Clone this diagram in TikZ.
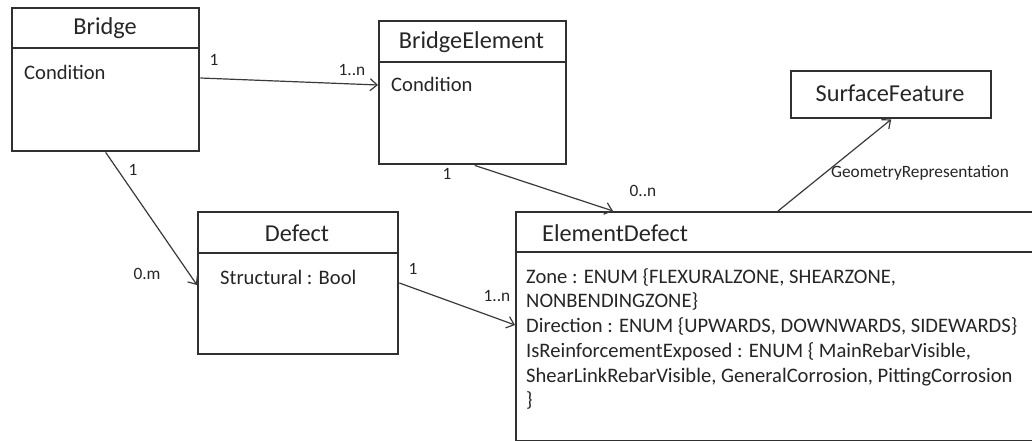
\documentclass[tikz,border=0pt]{standalone}
\usepackage{fontspec}
\setmainfont{Carlito}
\usetikzlibrary{arrows.meta}
\definecolor{ink}{HTML}{262626}
\definecolor{boxline}{HTML}{303030}
\definecolor{arrline}{HTML}{3A3A3A}
\tikzset{
  classbox/.style={draw=boxline, line width=2.4pt, fill=none, rectangle, inner sep=0pt, anchor=north west},
  sepline/.style={draw=boxline, line width=1.1pt},
  titletext/.style={text=ink, inner sep=0pt, font=\fontsize{24.3}{29}\selectfont},
  attrtext/.style={text=ink, inner sep=0pt, anchor=base west, font=\fontsize{20.6}{24}\selectfont},
  multtext/.style={text=ink, inner sep=0pt, font=\fontsize{17.3}{20}\selectfont},
  assoc/.style={draw=arrline, line width=1.2pt, -{Straight Barb[length=7pt,width=12pt,line width=1.2pt]}},
}
\begin{document}
\begin{tikzpicture}[x=1pt,y=-1pt]
\useasboundingbox (0,0) rectangle (1032,441);
\clip (0,0) rectangle (1032,441);
\fill[white] (0,0) rectangle (1032,441);

% Bridge
\node[classbox, minimum width=187, minimum height=143] (bridge) at (11,7) {};
\draw[sepline] ([yshift=-41pt]bridge.north west) -- ([yshift=-41pt]bridge.north east);
\node[titletext] (bridgeT) at (105,28) {Bridge};
\node[attrtext] (bridgeA) at (24,80) {Condition};

% BridgeElement
\node[classbox, minimum width=187, minimum height=143] (be) at (378,20) {};
\draw[sepline] ([yshift=-42pt]be.north west) -- ([yshift=-42pt]be.north east);
\node[titletext] (beT) at (471.5,42) {BridgeElement};
\node[attrtext] (beA) at (391,92) {Condition};

% SurfaceFeature
\node[classbox, minimum width=200, minimum height=47] (sf) at (790,70) {};
\node[titletext] (sfT) at (890,93) {SurfaceFeature};

% Defect
\node[classbox, minimum width=200, minimum height=142] (defect) at (197,211) {};
\draw[sepline] ([yshift=-42pt]defect.north west) -- ([yshift=-42pt]defect.north east);
\node[titletext] (defectT) at (297,233) {Defect};
\node[attrtext] (defectA) at (220,284) {Structural : Bool};

% ElementDefect (cut off at right edge)
\node[classbox, minimum width=540, minimum height=229] (ed) at (515,211) {};
\draw[sepline] ([yshift=-41pt]ed.north west) -- ([yshift=-41pt]ed.north east);
\node[titletext, anchor=west] (edT) at (542,233) {ElementDefect};
\node[attrtext] (edA1) at (526,283) {Zone : ENUM \{FLEXURALZONE, SHEARZONE,};
\node[attrtext] (edA2) at (526,307.5) {NONBENDINGZONE\}};
\node[attrtext] (edA3) at (526,332) {Direction : ENUM \{UPWARDS, DOWNWARDS, SIDEWARDS\}};
\node[attrtext] (edA4) at (526,357) {IsReinforcementExposed : ENUM \{ MainRebarVisible,};
\node[attrtext] (edA5) at (526,382) {ShearLinkRebarVisible, GeneralCorrosion, PittingCorrosion};
\node[attrtext] (edA6) at (526,406) {\}};

% Associations
\draw[assoc] ([yshift=-71pt]bridge.north east) -- ([yshift=-65pt]be.north west);
\draw[assoc] (bridge.south) -- ([yshift=-74pt]defect.north west);
\draw[assoc] ([xshift=2pt]be.south) -- ([xshift=98pt]ed.north west);
\draw[assoc] ([yshift=-72pt]defect.north east) -- ([yshift=-114pt]ed.north west);
\draw[assoc] ([xshift=263pt]ed.north west) -- (sf.south);

% Multiplicities
\node[multtext] (m1) at (214,60) {1};
\node[multtext] (m2) at (352,70) {1..n};
\node[multtext] (m3) at (133,170) {1};
\node[multtext] (m4) at (147,274) {0.m};
\node[multtext] (m5) at (447,174) {1};
\node[multtext] (m6) at (643,191) {0..n};
\node[multtext] (m7) at (413,269) {1};
\node[multtext] (m8) at (497,296) {1..n};
\node[multtext] (lbl) at (920,173) {GeometryRepresentation};
\end{tikzpicture}
\end{document}
